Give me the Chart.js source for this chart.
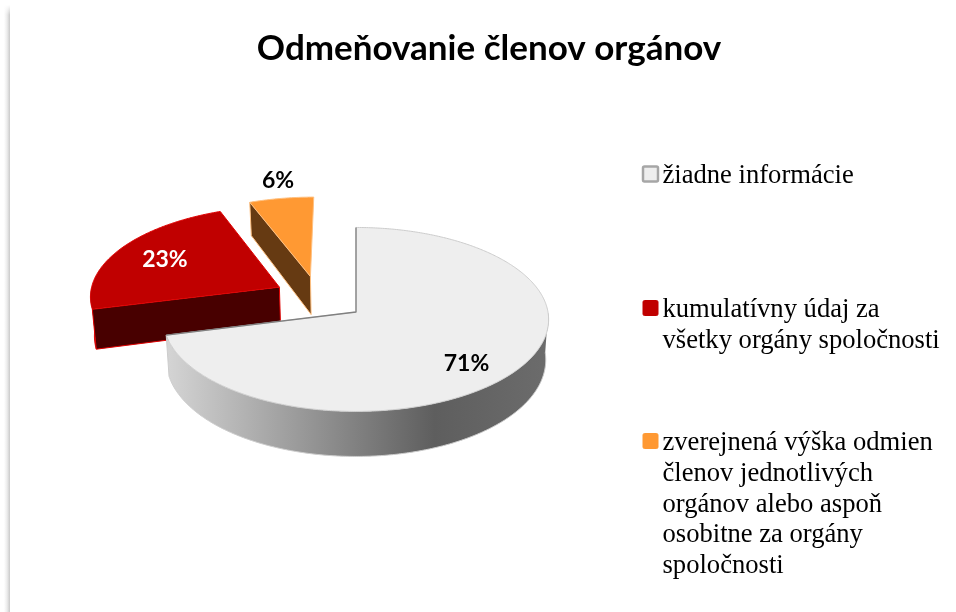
<!DOCTYPE html>
<html>
<head>
<meta charset="utf-8">
<script src="https://cdn.jsdelivr.net/npm/chart.js@4"></script>
<style>
  html, body { margin: 0; background: #fff; }
  #wrap {
    position: relative; width: 956px; height: 612px; overflow: hidden;
    background:
      linear-gradient(to bottom, #fff 5px, rgba(255,255,255,0) 15px),
      linear-gradient(to right, #fff 4px, #ececec 7px, #cfcfcf 9.5px, #fff 10px);
  }
  canvas { display: block; }
</style>
</head>
<body>
<div id="wrap"><canvas id="chart" width="956" height="612"></canvas></div>
<script>
const titleText = "Odmeňovanie členov orgánov";
const categories = ["žiadne informácie", "kumulatívny údaj za všetky orgány spoločnosti", "zverejnená výška odmien členov jednotlivých orgánov alebo aspoň osobitne za orgány spoločnosti"];
const shares = [71, 23, 6];
const legendLines = [
  ["žiadne informácie"],
  ["kumulatívny údaj za", "všetky orgány spoločnosti"],
  ["zverejnená výška odmien", "členov jednotlivých", "orgánov alebo aspoň", "osobitne za orgány", "spoločnosti"]
];
const sliceColors = ["#EEEEEE", "#C00000", "#FF9933"];
const sliceBorders = ["#CCCCCC", "#E00000", "#FFC080"];
const swatchBorders = ["#A6A6A6", "#C00000", "#FF9933"];
const wallColors = [null, "#480000", "#663A12"];
const labelColors = ["#000000", "#FFFFFF", "#000000"];

// look of the tilted pie: how far each slice is pulled out (in radii), where its label sits
const sliceShift = [[0, 0], [-0.408, -0.278], [-0.245, -0.40]];
const labelRadius = [0.74, 0.72, 1.2];
const labelNudge = [[-6, 9], [1, 0], [2, -3]];
const tilt = 0.476, perspective = 0.081;
const legendBaselines = [[183], [317, 348], [450, 481, 512, 542, 573]];
const swatchTops = [166, 300, 433];

function project(el, u, v, low) {
  const w = 1 / (1 - perspective * v);
  let x = u * el.outerRadius * w;
  let y = v * el.outerRadius * tilt * w;
  if (low) { x *= 0.985; y += 40 + 5 * v; }
  return [el.x + x, el.y + y];
}

// ring point of slice i at chart.js angle a, r radii from its own apex
function ringPoint(el, i, a, r, low) {
  return project(el, sliceShift[i][0] + r * Math.cos(a), sliceShift[i][1] + r * Math.sin(a), low);
}

function tracePath(ctx, pts, closed) {
  ctx.beginPath();
  pts.forEach((p, n) => n ? ctx.lineTo(p[0], p[1]) : ctx.moveTo(p[0], p[1]));
  if (closed) ctx.closePath();
}

function arcAngles(a0, a1) {
  const out = [];
  const steps = Math.ceil((a1 - a0) / 0.01);
  for (let s = 0; s <= steps; s++) out.push(a0 + (a1 - a0) * s / steps);
  return out;
}

class Arc3D extends Chart.ArcElement {
  static id = "arc3d";
  draw(ctx) {
    const i = this.$context.index;
    const angles = arcAngles(this.startAngle, this.endAngle);
    const top = angles.map(a => ringPoint(this, i, a, 1, false));
    const apexTop = ringPoint(this, i, 0, 0, false);
    const apexLow = ringPoint(this, i, 0, 0, true);
    const last = top.length - 1;
    const corner = i === 0 ? last : 0;
    const cornerLow = ringPoint(this, i, angles[corner], 1, true);

    // only the rim on the near half of the ellipse can be seen
    const near = angles.filter(a => Math.sin(a) >= 0);
    const rimTop = near.map(a => ringPoint(this, i, a, 1, false));
    const rimLow = near.map(a => ringPoint(this, i, a, 1, true));

    let wallFill = wallColors[i];
    if (!wallFill) {
      wallFill = ctx.createLinearGradient(168, 0, 549, 0);
      wallFill.addColorStop(0, "#D4D4D4");
      wallFill.addColorStop(0.7, "#5E5E5E");
      wallFill.addColorStop(1, "#6C6C6C");
    }
    ctx.save();
    ctx.lineJoin = "round";
    ctx.lineWidth = 1;
    ctx.fillStyle = wallFill;
    ctx.strokeStyle = this.options.borderColor;

    if (near.length) {
      tracePath(ctx, rimTop.concat(rimLow.slice().reverse()), true);
      ctx.fill();
      tracePath(ctx, rimLow, false);
      ctx.stroke();
    }
    // pulled out slices show one cut edge as a wall
    if (i > 0) {
      tracePath(ctx, [apexTop, top[0], cornerLow, apexLow], true);
      ctx.fill();
      tracePath(ctx, [apexTop, apexLow, cornerLow], false);
      ctx.stroke();
    }
    tracePath(ctx, [top[corner], cornerLow], false);
    ctx.stroke();

    tracePath(ctx, [apexTop].concat(top), true);
    ctx.fillStyle = this.options.backgroundColor;
    ctx.fill();
    ctx.stroke();

    // the big slice shows darker cut edges
    if (i === 0) {
      ctx.strokeStyle = "#808080";
      ctx.lineWidth = 1.3;
      tracePath(ctx, [top[last], apexTop, top[0]], false);
      ctx.stroke();
    }
    ctx.restore();
  }
}

class Pie3DController extends Chart.DoughnutController {
  static id = "pie3d";
  static defaults = { dataElementType: "arc3d" };
  // far slices first, the big one ends up in front
  draw() {
    const els = this._cachedMeta.data;
    for (let i = els.length - 1; i >= 0; i--) els[i].draw(this.chart.ctx);
  }
}

Chart.register(Arc3D, Pie3DController);

const slicePlugin = {
  id: "sliceExtras",
  afterLayout(chart) {
    // title is centred over the whole page, not over the pie
    chart.titleBlock.left = 0;
    chart.titleBlock.right = 978;
  },
  afterDatasetsDraw(chart) {
    const ctx = chart.ctx;
    ctx.save();
    ctx.font = "bold 23px Lato";
    ctx.textAlign = "center";
    ctx.textBaseline = "middle";
    chart.getDatasetMeta(0).data.forEach((el, i) => {
      const mid = (el.startAngle + el.endAngle) / 2;
      const p = ringPoint(el, i, mid, labelRadius[i], false);
      ctx.fillStyle = labelColors[i];
      ctx.fillText(shares[i] + "%", p[0] + labelNudge[i][0], p[1] + labelNudge[i][1]);
    });
    ctx.restore();
  },
  afterDraw(chart) {
    const ctx = chart.ctx;
    ctx.save();
    ctx.font = "26.6px 'Liberation Serif'";
    ctx.textAlign = "left";
    ctx.textBaseline = "alphabetic";
    legendLines.forEach((lines, i) => {
      ctx.fillStyle = sliceColors[i];
      ctx.strokeStyle = swatchBorders[i];
      ctx.lineWidth = i === 0 ? 2.5 : 1;
      ctx.beginPath();
      ctx.roundRect(643, swatchTops[i] + 0.5, 15, 15, 1.5);
      ctx.fill();
      ctx.stroke();
      ctx.fillStyle = "#000000";
      lines.forEach((line, n) => ctx.fillText(line, 662.5, legendBaselines[i][n]));
    });
    ctx.restore();
  }
};

new Chart(document.getElementById("chart"), {
  type: "pie3d",
  data: {
    labels: categories,
    datasets: [{
      data: shares,
      backgroundColor: sliceColors,
      borderColor: sliceBorders
    }]
  },
  options: {
    responsive: false,
    animation: false,
    events: [],
    layout: { padding: { left: 0, right: 244, top: 0, bottom: 107 } },
    plugins: {
      legend: { display: false },
      tooltip: { enabled: false },
      title: {
        display: true,
        text: titleText,
        color: "#000000",
        font: { family: "Lato", size: 35, weight: "bold", lineHeight: 1.2 },
        padding: { top: 28, bottom: 49 }
      }
    }
  },
  plugins: [slicePlugin]
});
</script>
</body>
</html>
